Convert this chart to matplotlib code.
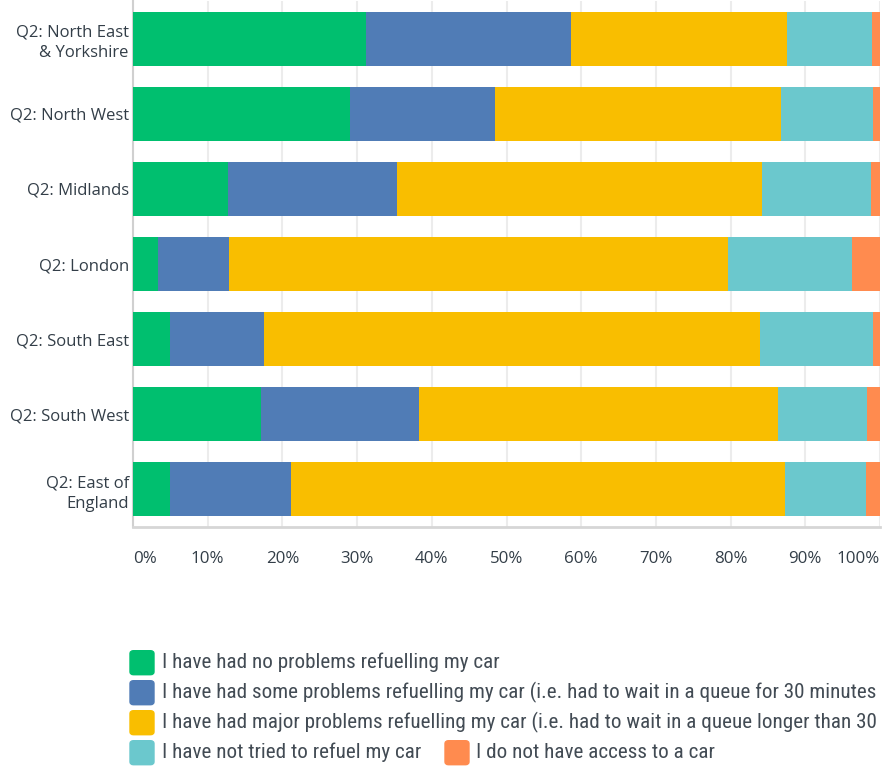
import matplotlib.pyplot as plt
import matplotlib.patches as mpatches
from matplotlib import font_manager
import numpy as np

# ------------------------------
# data (percent of respondents)
# ------------------------------
regions = ["Q2: North East\n& Yorkshire", "Q2: North West", "Q2: Midlands", "Q2: London",
           "Q2: South East", "Q2: South West", "Q2: East of\nEngland"]
no_problems = [31.2, 29.0, 12.7, 3.3, 4.9, 17.2, 4.9]
some_problems = [27.5, 19.5, 22.7, 9.6, 12.7, 21.1, 16.3]
major_problems = [28.8, 38.3, 48.8, 66.7, 66.3, 48.0, 66.1]
not_tried = [11.4, 12.3, 14.6, 16.6, 15.2, 12.0, 10.8]
no_car = [1.1, 0.9, 1.2, 3.8, 0.9, 1.7, 1.9]

# answer texts as far as they are visible in the original (cut at the right edge)
answers = ["I have had no problems refuelling my car",
           "I have had some problems refuelling my car (i.e. had to wait in a queue for 30 minutes",
           "I have had major problems refuelling my car (i.e. had to wait in a queue longer than 30",
           "I have not tried to refuel my car",
           "I do not have access to a car"]
colors = ["#00bf6f", "#507cb6", "#f9be00", "#6bc8cd", "#ff8b4f"]
xticks = [0, 10, 20, 30, 40, 50, 60, 70, 80, 90, 100]

installed = {f.name for f in font_manager.fontManager.ttflist}
narrow = [f for f in ["Roboto Condensed", "Liberation Sans Narrow", "DejaVu Sans Condensed"] if f in installed]
narrow_family = narrow + ["DejaVu Sans"]
plt.rcParams['font.family'] = ["Open Sans", "DejaVu Sans"]
TXT = "#333e48"

fig = plt.figure(figsize=(8.84, 7.66), dpi=100)
ax = fig.add_axes([133 / 884, 1 - 527 / 766, 747 / 884, 526 / 766])

series = [no_problems, some_problems, major_problems, not_tried, no_car]
y = np.arange(len(regions))
left = np.zeros(len(regions))
for vals, c in zip(series, colors):
    ax.barh(y, vals, left=left, height=0.72, color=c, zorder=3)
    left += np.array(vals)

ax.set_xlim(0, 100)
ax.set_ylim(len(regions) - 0.5, -0.5)
ax.set_xticks(xticks)
ax.set_xticklabels([f"{t}%" for t in xticks], fontsize=12.2, color=TXT)
lbls = ax.get_xticklabels()
lbls[0].set_ha("left")
lbls[-1].set_ha("right")
ax.set_yticks(y)
ax.set_yticklabels(regions, fontsize=12, color=TXT, linespacing=1.4)
ax.tick_params(axis="x", length=0, pad=17)
ax.tick_params(axis="y", length=0, pad=3)
ax.grid(axis="x", color="#ececec", linewidth=1.5, zorder=0)
for s in ["top", "right"]:
    ax.spines[s].set_visible(False)
ax.spines["left"].set_color("#d0d0d0")
ax.spines["left"].set_linewidth(1.5)
ax.spines["bottom"].set_color("#d6d6d6")
ax.spines["bottom"].set_linewidth(2)

# legend drawn by hand, one row per answer
def legend_item(x, yy, color, label):
    fig.patches.append(mpatches.FancyBboxPatch((x / 884, 1 - (yy + 12) / 766), 24 / 884, 24 / 766,
                                              boxstyle="round,pad=0,rounding_size=0.004",
                                              transform=fig.transFigure, color=color))
    fig.text((x + 31.5) / 884, 1 - yy / 766, label, fontsize=15.2, color="#424b54", va="center",
             family=narrow_family)

legend_item(130, 662.7, colors[0], answers[0])
legend_item(130, 692.7, colors[1], answers[1])
legend_item(130, 722.7, colors[2], answers[2])
legend_item(130, 752.7, colors[3], answers[3])
legend_item(445, 752.7, colors[4], answers[4])

fig.savefig("out.png", dpi=100)
